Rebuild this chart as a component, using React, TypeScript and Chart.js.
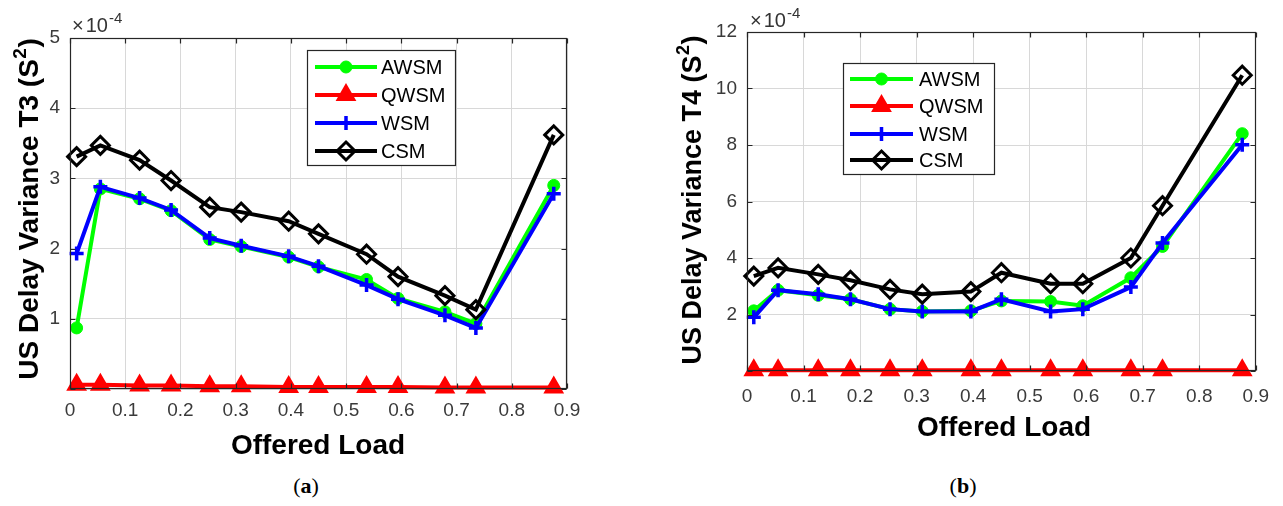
import React, { useEffect, useRef } from 'react';
import { Chart, registerables } from 'chart.js';

Chart.register(...registerables);

// ---------------- data ----------------
const offeredLoad = [0.012, 0.055, 0.126, 0.183, 0.253, 0.31, 0.396, 0.45, 0.537, 0.594, 0.679, 0.735, 0.876];
const seriesNames = ['AWSM', 'QWSM', 'WSM', 'CSM'];

// panel (a): US delay variance T3, in units of 1e-4 s^2
const awsmT3 = [0.87, 2.85, 2.71, 2.54, 2.13, 2.03, 1.88, 1.74, 1.56, 1.29, 1.10, 0.93, 2.90];
const qwsmT3 = [0.06, 0.06, 0.05, 0.05, 0.04, 0.04, 0.03, 0.03, 0.03, 0.03, 0.02, 0.02, 0.02];
const wsmT3 = [1.93, 2.88, 2.72, 2.55, 2.15, 2.04, 1.89, 1.75, 1.48, 1.28, 1.05, 0.87, 2.78];
const csmT3 = [3.31, 3.47, 3.26, 2.97, 2.59, 2.52, 2.39, 2.21, 1.92, 1.60, 1.33, 1.13, 3.62];

// panel (b): US delay variance T4, in units of 1e-4 s^2
const awsmT4 = [2.13, 2.86, 2.68, 2.54, 2.19, 2.11, 2.13, 2.48, 2.46, 2.31, 3.30, 4.41, 8.40];
const qwsmT4 = [0.03, 0.03, 0.03, 0.03, 0.03, 0.03, 0.03, 0.03, 0.03, 0.03, 0.03, 0.03, 0.03];
const wsmT4 = [1.90, 2.86, 2.72, 2.54, 2.19, 2.11, 2.11, 2.54, 2.11, 2.19, 2.97, 4.53, 8.01];
const csmT4 = [3.36, 3.65, 3.42, 3.21, 2.89, 2.72, 2.81, 3.48, 3.09, 3.09, 4.00, 5.85, 10.47];

const xTickLabels = ['0', '0.1', '0.2', '0.3', '0.4', '0.5', '0.6', '0.7', '0.8', '0.9'];
const yTickLabelsT3 = ['', '1', '2', '3', '4', '5'];
const yTickLabelsT4 = ['', '2', '4', '6', '8', '10', '12'];

const xTitle = 'Offered Load';
const yTitleT3 = 'US Delay Variance T3 (S';
const yTitleT4 = 'US Delay Variance T4 (S';

// ---------------- styles ----------------
const seriesStyles = [
  { color: '#00ff00', pointStyle: 'circle', radius: 6, fill: '#00ff00', bw: 1, order: 3 },
  { color: '#ff0000', pointStyle: 'triangle', radius: 10, fill: '#ff0000', bw: 2, order: 2 },
  { color: '#0000ff', pointStyle: 'cross', radius: 7, fill: '#0000ff', bw: 3.5, order: 1 },
  { color: '#000000', pointStyle: 'rectRot', radius: 9, fill: 'rgba(0,0,0,0)', bw: 3, order: 0 },
];

const SANS = '"Liberation Sans", Arial, Helvetica, sans-serif';
const AXIS_COLOR = '#262626';
const LINE_W = 4;

function drawMarker(ctx: CanvasRenderingContext2D, st: any, x: number, y: number) {
  const r = st.radius;
  ctx.save();
  ctx.strokeStyle = st.color;
  ctx.fillStyle = st.fill;
  ctx.lineWidth = st.bw;
  ctx.beginPath();
  if (st.pointStyle === 'circle') {
    ctx.arc(x, y, r, 0, Math.PI * 2);
    ctx.fill();
    ctx.stroke();
  } else if (st.pointStyle === 'triangle') {
    const c = Math.cos(Math.PI / 6) * r;
    ctx.moveTo(x, y - r);
    ctx.lineTo(x + c, y + r / 2);
    ctx.lineTo(x - c, y + r / 2);
    ctx.closePath();
    ctx.fill();
    ctx.stroke();
  } else if (st.pointStyle === 'cross') {
    ctx.moveTo(x - r, y);
    ctx.lineTo(x + r, y);
    ctx.moveTo(x, y - r);
    ctx.lineTo(x, y + r);
    ctx.stroke();
  } else {
    ctx.moveTo(x, y - r);
    ctx.lineTo(x + r, y);
    ctx.lineTo(x, y + r);
    ctx.lineTo(x - r, y);
    ctx.closePath();
    ctx.stroke();
  }
  ctx.restore();
}

function makeDecor(cfg: any) {
  return {
    id: 'figureDecor',
    afterDraw(chart: any) {
      const { ctx, chartArea: a, scales } = chart;
      ctx.save();
      // box
      ctx.strokeStyle = AXIS_COLOR;
      ctx.lineWidth = 1.2;
      const L = Math.round(a.left) + 0.5;
      const R = Math.round(a.right) - 0.5;
      const T = Math.round(a.top) + 0.5;
      const B = Math.round(a.bottom) - 0.5;
      ctx.strokeRect(L, T, R - L, B - T);
      // inward ticks
      const tl = 5;
      ctx.beginPath();
      scales.x.ticks.forEach((t: any) => {
        const px = Math.round(scales.x.getPixelForValue(t.value)) + 0.5;
        ctx.moveTo(px, B);
        ctx.lineTo(px, B - tl);
        ctx.moveTo(px, T);
        ctx.lineTo(px, T + tl);
      });
      scales.y.ticks.forEach((t: any) => {
        const py = Math.round(scales.y.getPixelForValue(t.value)) + 0.5;
        ctx.moveTo(L, py);
        ctx.lineTo(L + tl, py);
        ctx.moveTo(R, py);
        ctx.lineTo(R - tl, py);
      });
      ctx.stroke();

      // exponent label
      ctx.fillStyle = '#333333';
      ctx.textBaseline = 'alphabetic';
      ctx.textAlign = 'left';
      ctx.font = `20px ${SANS}`;
      ctx.fillText('\u00d7', cfg.expX, cfg.expY);
      const wx = ctx.measureText('\u00d7').width;
      ctx.fillText('10', cfg.expX + wx + 2, cfg.expY);
      const w10 = ctx.measureText('10').width;
      ctx.font = `15px ${SANS}`;
      ctx.fillText('-4', cfg.expX + wx + 2 + w10 + 1, cfg.expY - 9);

      // y title (rotated)
      ctx.fillStyle = '#000000';
      ctx.save();
      ctx.translate(cfg.yTitleX, cfg.yTitleY);
      ctx.rotate(-Math.PI / 2);
      const fs = cfg.yTitleSize;
      ctx.font = `bold ${fs}px ${SANS}`;
      const w1 = ctx.measureText(cfg.yTitle).width;
      const w3 = ctx.measureText(')').width;
      ctx.font = `bold ${Math.round(fs * 0.68)}px ${SANS}`;
      const w2 = ctx.measureText('2').width;
      const total = w1 + w2 + w3 + 1;
      let sx = -total / 2;
      const base = fs * 0.36;
      ctx.font = `bold ${fs}px ${SANS}`;
      ctx.fillText(cfg.yTitle, sx, base);
      sx += w1 + 0.5;
      ctx.font = `bold ${Math.round(fs * 0.68)}px ${SANS}`;
      ctx.fillText('2', sx, base - fs * 0.42);
      sx += w2 + 0.5;
      ctx.font = `bold ${fs}px ${SANS}`;
      ctx.fillText(')', sx, base);
      ctx.restore();

      // x title
      ctx.font = `bold ${cfg.xTitleSize}px ${SANS}`;
      ctx.textAlign = 'center';
      ctx.textBaseline = 'middle';
      ctx.fillText(xTitle, cfg.xTitleX, cfg.xTitleY);

      // legend
      const lg = cfg.legend;
      ctx.fillStyle = '#ffffff';
      ctx.fillRect(lg.left, lg.top, lg.right - lg.left, lg.bottom - lg.top);
      ctx.strokeStyle = AXIS_COLOR;
      ctx.lineWidth = 1.2;
      ctx.strokeRect(lg.left + 0.5, lg.top + 0.5, lg.right - lg.left, lg.bottom - lg.top);
      seriesNames.forEach((name, i) => {
        const st = seriesStyles[i];
        const y = lg.rows[i];
        ctx.strokeStyle = st.color;
        ctx.lineWidth = LINE_W;
        ctx.beginPath();
        ctx.moveTo(lg.lineX1, y);
        ctx.lineTo(lg.lineX2, y);
        ctx.stroke();
        drawMarker(ctx, st, (lg.lineX1 + lg.lineX2) / 2, y);
        ctx.fillStyle = '#000000';
        ctx.font = `${lg.fontSize}px ${SANS}`;
        ctx.textAlign = 'left';
        ctx.textBaseline = 'middle';
        ctx.fillText(name, lg.textX, y + 1);
      });
      ctx.restore();
    },
  };
}

function buildDatasets(values: number[][]) {
  return values.map((vals, i) => {
    const st = seriesStyles[i];
    return {
      label: seriesNames[i],
      data: offeredLoad.map((x, k) => ({ x, y: vals[k] })),
      borderColor: st.color,
      backgroundColor: st.fill,
      borderWidth: LINE_W,
      pointStyle: st.pointStyle,
      pointRadius: st.radius,
      pointBorderWidth: st.bw,
      pointBackgroundColor: st.fill,
      pointBorderColor: st.color,
      tension: 0,
      clip: false as any,
      order: st.order,
    };
  });
}

function Panel(props: any) {
  const ref = useRef<HTMLCanvasElement | null>(null);
  const p = props.cfg;
  useEffect(() => {
    if (!ref.current) return;
    const chart = new Chart(ref.current, {
      type: 'line',
      data: { datasets: buildDatasets(p.values) as any },
      options: {
        animation: false,
        responsive: false,
        devicePixelRatio: 1,
        layout: { autoPadding: false, padding: { left: 0, top: p.top, right: p.width - p.right, bottom: 0 } } as any,
        plugins: { legend: { display: false }, tooltip: { enabled: false } },
        scales: {
          x: {
            type: 'linear',
            min: 0,
            max: 0.9,
            afterFit: (s: any) => { s.height = p.height - p.bottom; },
            grid: { color: '#d8d8d8', lineWidth: 1, drawTicks: false, tickLength: 0 },
            border: { display: false },
            ticks: {
              stepSize: 0.1,
              padding: p.xTickPad,
              color: '#3a3a3a',
              font: { family: SANS, size: 19 },
              maxRotation: 0,
              autoSkip: false,
              callback: (_v: any, i: number) => xTickLabels[i],
            },
          },
          y: {
            type: 'linear',
            min: 0,
            max: p.yMax,
            afterFit: (s: any) => { s.width = p.left; },
            grid: { color: '#d8d8d8', lineWidth: 1, drawTicks: false, tickLength: 0 },
            border: { display: false },
            ticks: {
              stepSize: p.yStep,
              padding: 10,
              color: '#3a3a3a',
              font: { family: SANS, size: 19 },
              autoSkip: false,
              callback: (_v: any, i: number) => p.yLabels[i],
            },
          },
        },
      },
      plugins: [makeDecor(p.decor)],
    });
    return () => chart.destroy();
  }, []);
  return (
    <canvas
      ref={ref}
      width={p.width}
      height={p.height}
      style={{ position: 'absolute', left: p.x, top: 0, width: p.width, height: p.height }}
    />
  );
}

const panelA = {
  x: 0, width: 620, height: 470,
  left: 70, right: 567, top: 38, bottom: 389,
  yMax: 5, yStep: 1, yLabels: yTickLabelsT3, xTickPad: 10,
  values: [awsmT3, qwsmT3, wsmT3, csmT3],
  decor: {
    expX: 72, expY: 32,
    yTitle: yTitleT3, yTitleX: 28, yTitleY: 209, yTitleSize: 28,
    xTitleX: 318, xTitleY: 446, xTitleSize: 28,
    legend: { left: 307, top: 50, right: 455, bottom: 165, lineX1: 315, lineX2: 377, textX: 381, rows: [67, 95, 123, 151], fontSize: 20 },
  },
};

const panelB = {
  x: 640, width: 643, height: 470,
  left: 107, right: 621, top: 32, bottom: 371,
  yMax: 12, yStep: 2, yLabels: yTickLabelsT4, xTickPad: 14,
  values: [awsmT4, qwsmT4, wsmT4, csmT4],
  decor: {
    expX: 110, expY: 27,
    yTitle: yTitleT4, yTitleX: 51, yTitleY: 200, yTitleSize: 27,
    xTitleX: 364, xTitleY: 428, xTitleSize: 28,
    legend: { left: 203, top: 63, right: 354, bottom: 174, lineX1: 210, lineX2: 273, textX: 279, rows: [79, 106, 134, 160], fontSize: 20 },
  },
};

const captionStyle: React.CSSProperties = {
  position: 'absolute',
  top: 473,
  width: 60,
  textAlign: 'center',
  fontFamily: '"Liberation Serif", "DejaVu Serif", serif',
  fontSize: 22,
  lineHeight: '26px',
  color: '#000',
};

export default function App() {
  return (
    <div style={{ position: 'absolute', left: 0, top: 0, width: 1283, height: 506, background: '#fff', overflow: 'hidden' }}>
      <Panel cfg={panelA} />
      <Panel cfg={panelB} />
      <div style={{ ...captionStyle, left: 306 - 30 }}>(<b>a</b>)</div>
      <div style={{ ...captionStyle, left: 963 - 30 }}>(<b>b</b>)</div>
    </div>
  );
}
